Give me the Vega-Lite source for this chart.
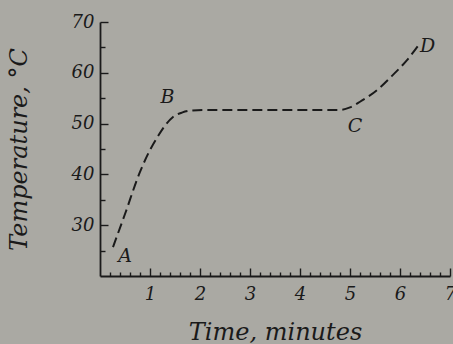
{
  "$schema": "https://vega.github.io/schema/vega-lite/v6.json",
  "width": 350,
  "height": 254,
  "autosize": "none",
  "padding": {"left": 100, "top": 22, "right": 3, "bottom": 68},
  "background": "#aaa9a3",
  "config": {
    "view": {"stroke": null},
    "font": "DejaVu Serif",
    "axis": {
      "domainColor": "#1a1a1a",
      "domainWidth": 1.8,
      "tickColor": "#1a1a1a",
      "tickWidth": 1.4,
      "grid": false,
      "labelFont": "DejaVu Serif",
      "labelFontStyle": "italic",
      "labelFontSize": 18,
      "labelColor": "#1a1a1a",
      "labelFlush": false,
      "labelOverlap": false,
      "titleFont": "DejaVu Serif",
      "titleFontStyle": "italic",
      "titleFontWeight": "normal",
      "titleFontSize": 24,
      "titleColor": "#1a1a1a"
    }
  },
  "layer": [
    {
      "data": {
        "values": [
          {"t": 0.26, "T": 25.7},
          {"t": 0.5, "T": 32.2},
          {"t": 0.8, "T": 40.5},
          {"t": 1.0, "T": 44.8},
          {"t": 1.14, "T": 47.2},
          {"t": 1.3, "T": 49.6},
          {"t": 1.46, "T": 51.3},
          {"t": 1.65, "T": 52.2},
          {"t": 1.85, "T": 52.6},
          {"t": 2.1, "T": 52.7},
          {"t": 3.0, "T": 52.7},
          {"t": 4.0, "T": 52.7},
          {"t": 4.8, "T": 52.7},
          {"t": 5.0, "T": 53.2},
          {"t": 5.2, "T": 54.3},
          {"t": 5.54, "T": 56.6},
          {"t": 5.86, "T": 59.6},
          {"t": 6.14, "T": 62.5},
          {"t": 6.36, "T": 65.3}
        ]
      },
      "mark": {"type": "line", "interpolate": "monotone", "strokeDash": [10, 5], "strokeWidth": 2, "color": "#1a1a1a"},
      "encoding": {
        "x": {
          "field": "t", "type": "quantitative",
          "scale": {"domain": [0, 7], "nice": false, "zero": false},
          "axis": {
            "orient": "bottom",
            "values": [1, 2, 3, 4, 5, 6, 7],
            "tickSize": -8,
            "labelPadding": 17,
            "title": "Time, minutes",
            "titlePadding": 17
          }
        },
        "y": {
          "field": "T", "type": "quantitative",
          "scale": {"domain": [20, 70], "nice": false, "zero": false},
          "axis": {
            "orient": "left",
            "values": [30, 40, 50, 60, 70],
            "tickSize": -8,
            "labelPadding": 14,
            "title": "Temperature, °C",
            "titlePadding": 40
          }
        }
      }
    },
    {
      "data": {
        "values": [
          {"t": 0.5, "T": 24.0, "label": "A"},
          {"t": 1.35, "T": 55.2, "label": "B"},
          {"t": 5.1, "T": 49.5, "label": "C"},
          {"t": 6.55, "T": 65.3, "label": "D"}
        ]
      },
      "mark": {"type": "text", "font": "DejaVu Serif", "fontStyle": "italic", "fontSize": 19, "color": "#1a1a1a"},
      "encoding": {
        "x": {
          "field": "t", "type": "quantitative",
          "scale": {"domain": [0, 7], "nice": false, "zero": false},
          "axis": {
            "orient": "bottom",
            "values": [0.2, 0.4, 0.6, 0.8, 1.2, 1.4, 1.6, 1.8, 2.2, 2.4, 2.6, 2.8, 3.2, 3.4, 3.6, 3.8, 4.2, 4.4, 4.6, 4.8, 5.2, 5.4, 5.6, 5.8, 6.2, 6.4, 6.6, 6.8],
            "tickSize": -4,
            "labels": false,
            "domain": false,
            "title": null
          }
        },
        "y": {
          "field": "T", "type": "quantitative",
          "scale": {"domain": [20, 70], "nice": false, "zero": false},
          "axis": {
            "orient": "left",
            "values": [25, 35, 45, 55, 65],
            "tickSize": -5,
            "labels": false,
            "domain": false,
            "title": null
          }
        },
        "text": {"field": "label"}
      }
    }
  ],
  "resolve": {"axis": {"x": "independent", "y": "independent"}}
}
